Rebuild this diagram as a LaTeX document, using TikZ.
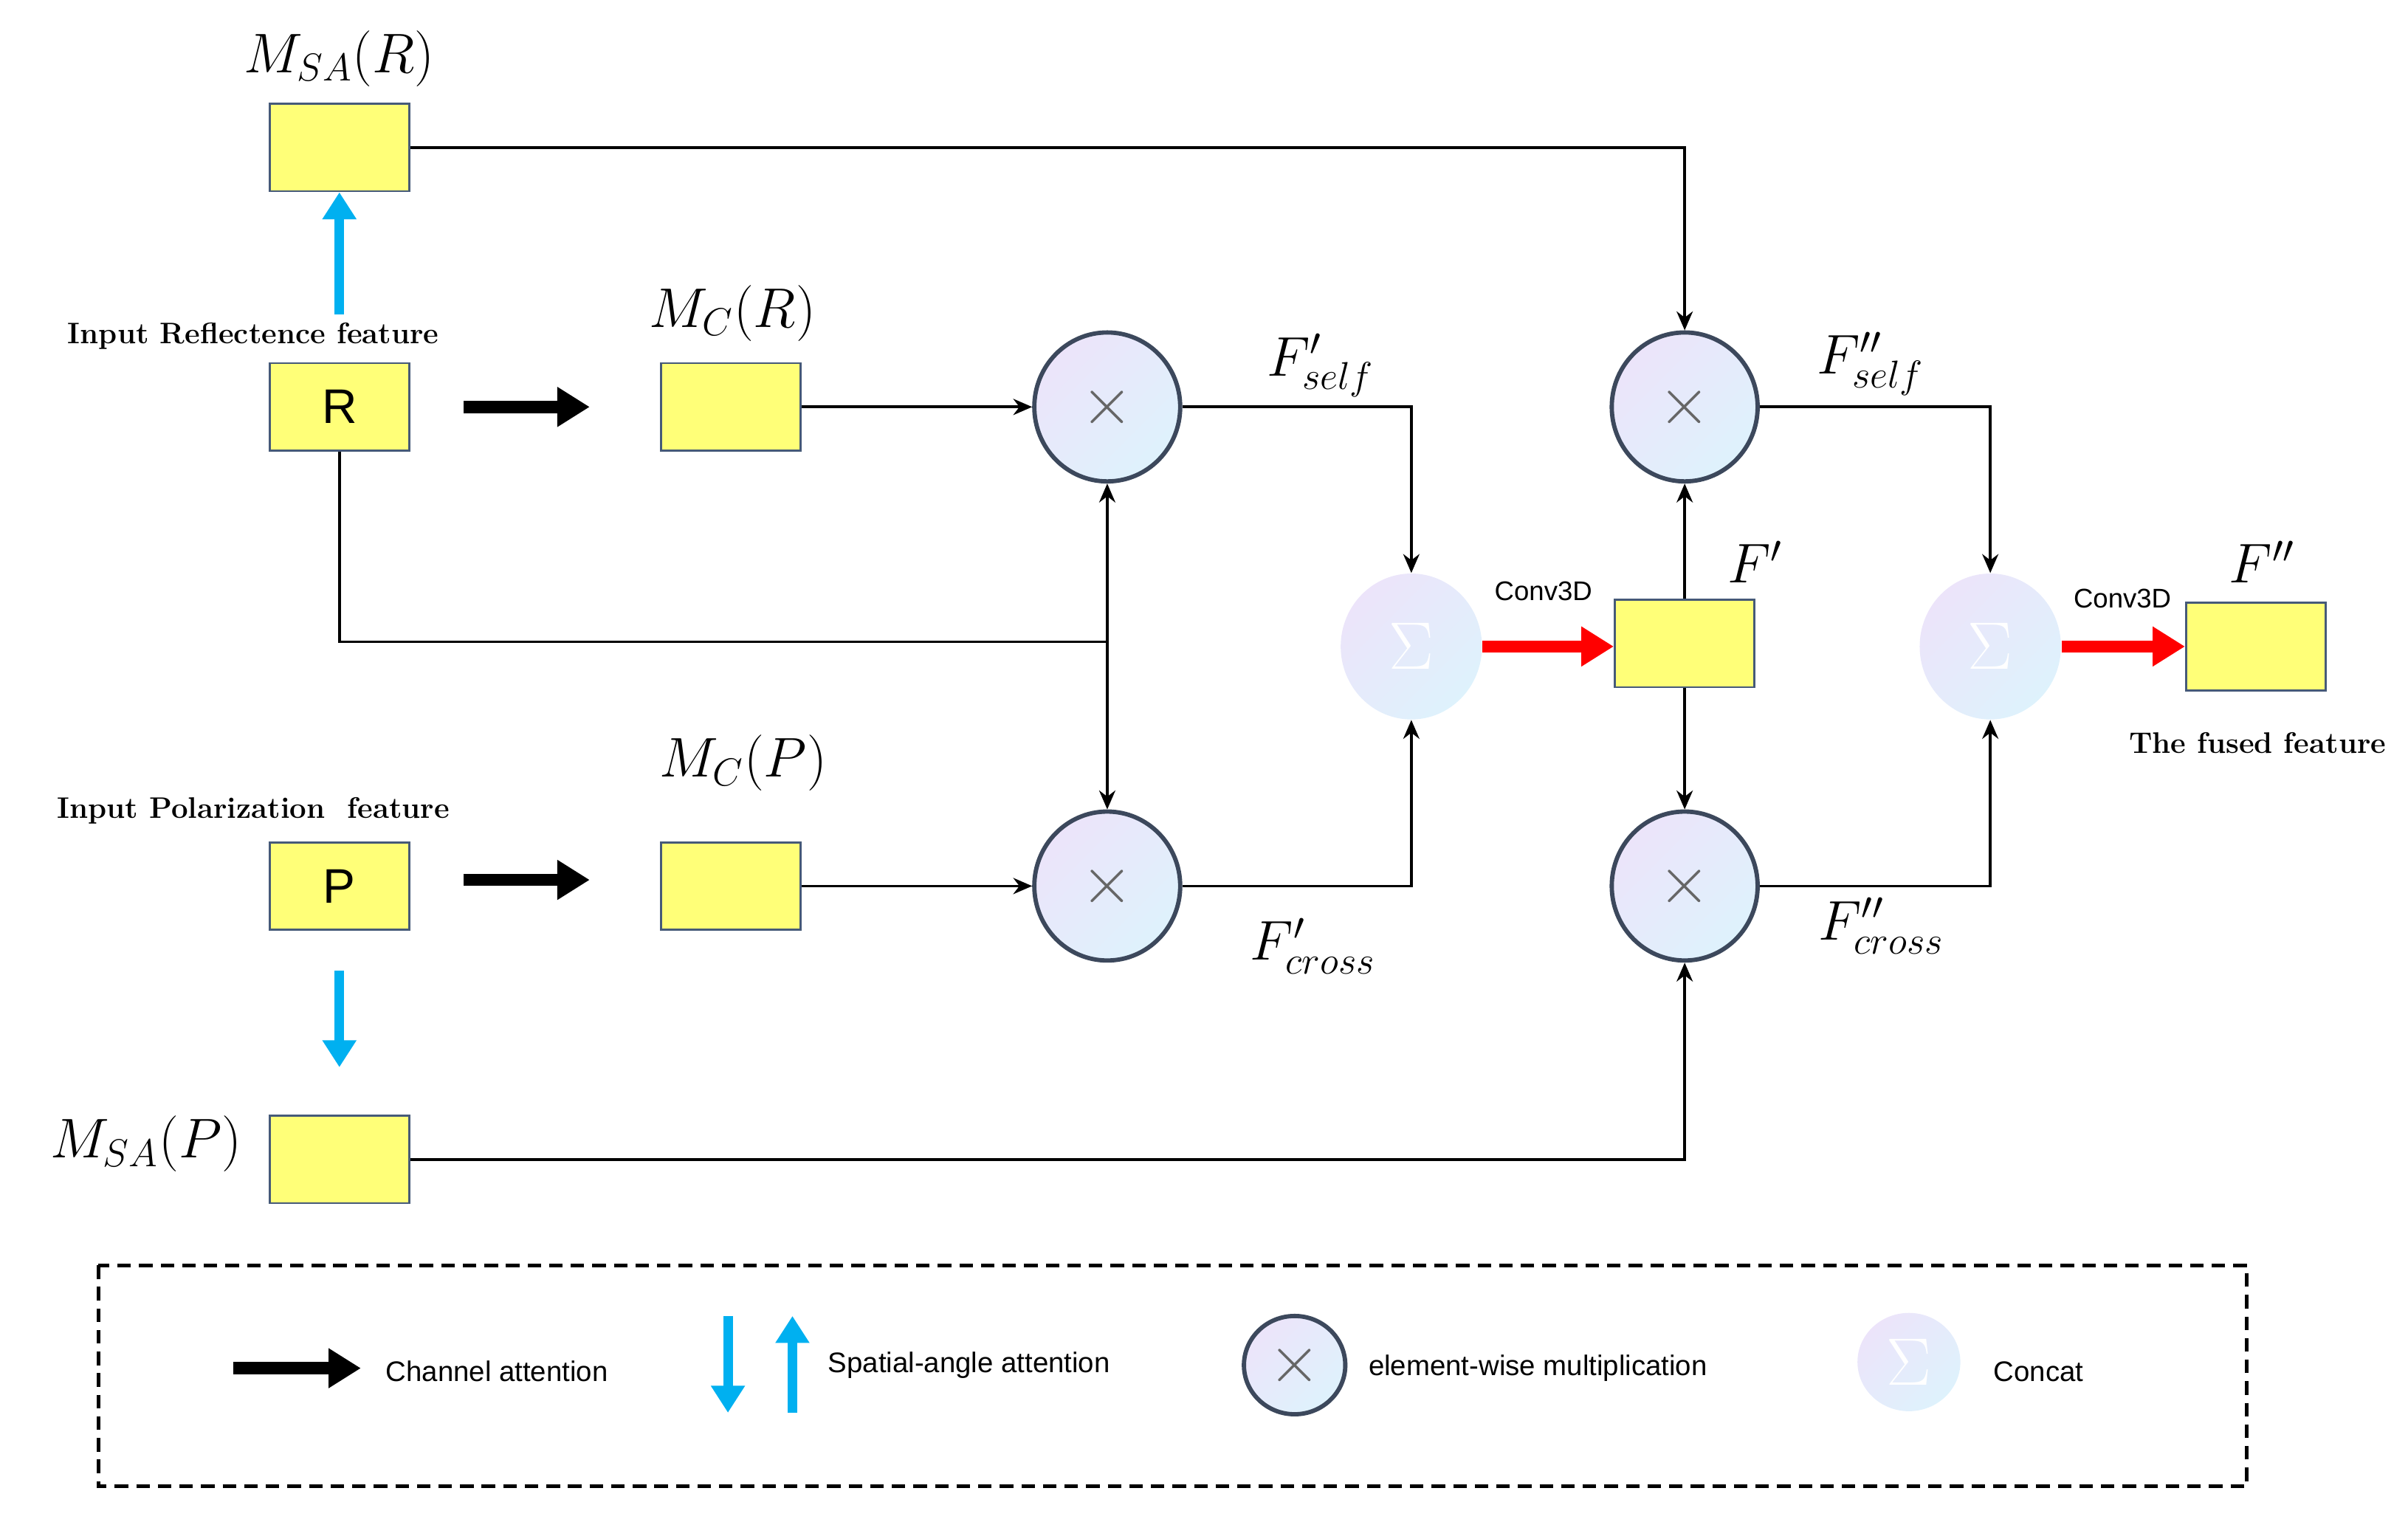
\documentclass[tikz,border=0pt]{standalone}
\usepackage{fontspec}
\newfontfamily\sansf{Liberation Sans}
\usetikzlibrary{positioning,arrows.meta,shapes.geometric}
\definecolor{boxyellow}{RGB}{255,255,120}
\definecolor{boxedge}{RGB}{70,90,120}
\definecolor{ringedge}{RGB}{60,72,92}
\definecolor{attblue}{RGB}{0,176,240}
\definecolor{lavender}{RGB}{236,228,250}
\definecolor{paleblue}{RGB}{222,242,252}
\begin{document}
\begin{tikzpicture}
[
    x=0.2mm,y=-0.2mm,
    feat/.style={rectangle,draw=boxedge,fill=boxyellow,thick,minimum width=18.2mm,minimum height=11.4mm,font=\sansf\fontsize{18}{20}\selectfont},
    mult/.style={ellipse,draw=ringedge,line width=1.6pt,left color=lavender,right color=paleblue,shading angle=45,minimum width=19mm,minimum height=19.4mm},
    concat/.style={ellipse,left color=lavender,right color=paleblue,shading angle=45,minimum width=18.4mm,minimum height=19mm,text=white,font=\fontsize{36}{36}\selectfont},
    mlabel/.style={font=\fontsize{21}{24}\selectfont},
    inlabel/.style={font=\bfseries\fontsize{11}{13}\selectfont},
    legtext/.style={font=\sansf\fontsize{10.5}{12}\selectfont,anchor=west},
    conv/.style={font=\sansf\fontsize{10}{11}\selectfont},
    flow/.style={-{Stealth[length=7pt,width=6pt]},line width=1pt},
    plain/.style={line width=1pt},
    chan/.style={-{Triangle[length=12pt,width=14pt]},line width=4.5pt},
    spat/.style={-{Triangle[length=10pt,width=12pt]},line width=3.5pt,draw=attblue},
    fuse/.style={-{Triangle[length=12pt,width=14pt]},line width=4.5pt,draw=red}
]
\useasboundingbox (0,0) rectangle (1568,991);

% feature boxes
\node (msar) at (221,96) [feat] {};
\node (r) at (221,265) [feat] {R};
\node (mcr) at (476,265) [feat] {};
\node (p) at (221,577) [feat] {P};
\node (mcp) at (476,577) [feat] {};
\node (msap) at (221,755) [feat] {};
\node (f1) at (1097,419) [feat] {};
\node (f2) at (1469,421) [feat] {};

% operators
\node (m1) at (721,265) [mult] {};
\node (m2) at (721,577) [mult] {};
\node (m3) at (1097,265) [mult] {};
\node (m4) at (1097,577) [mult] {};
\node (s1) at (919,421) [concat] {$\Sigma$};
\node (s2) at (1296,421) [concat] {$\Sigma$};
\foreach \m in {m1,m2,m3,m4}
    \node at (\m) [font=\fontsize{58}{58}\selectfont,text=gray!80!black] {$\times$};

% labels
\node at (221,38) [mlabel] {$M_{SA}(R)$};
\node at (165,219) [inlabel] {Input Reflectence feature};
\node at (477,204) [mlabel] {$M_{C}(R)$};
\node at (165,528) [inlabel] {Input Polarization\ \ feature};
\node at (484,497) [mlabel] {$M_{C}(P)$};
\node at (95,745) [mlabel] {$M_{SA}(P)$};
\node at (860,238) [mlabel] {$F'_{self}$};
\node at (855,616) [mlabel] {$F'_{cross}$};
\node at (1143,366) [mlabel] {$F'$};
\node at (1218,237) [mlabel] {$F''_{self}$};
\node at (1225,603) [mlabel] {$F''_{cross}$};
\node at (1473,366) [mlabel] {$F''$};
\node at (1470,484) [inlabel] {The fused feature};
\node at (1005,385) [conv] {Conv3D};
\node at (1382,390) [conv] {Conv3D};

% attention arrows
\draw [spat] (r.north) ++(0,-31) coordinate (ra) -- (msar.south);
\coordinate (pa) at (221,632);
\draw [spat] (pa) -- (221,695) coordinate (pb);
\coordinate (ca) at (302,265);
\draw [chan] (ca) -- (384,265);
\coordinate (cb) at (302,573);
\draw [chan] (cb) -- (384,573);

% connectors
\draw [flow] (mcr.east) -- (m1.west);
\draw [flow] (mcp.east) -- (m2.west);
\coordinate (jn) at (721,418);
\draw [plain] (r.south) |- (jn);
\draw [flow] (jn) -- (m1.south);
\draw [flow] (jn) -- (m2.north);
\draw [flow] (m1.east) -| (s1.north);
\draw [flow] (m2.east) -| (s1.south);
\draw [flow] (msar.east) -| (m3.north);
\draw [flow] (msap.east) -| (m4.south);
\draw [fuse] (s1.east) -- (f1.west |- s1.east);
\draw [flow] (f1.north) -- (m3.south);
\draw [flow] (f1.south) -- (m4.north);
\draw [flow] (m3.east) -| (s2.north);
\draw [flow] (m4.east) -| (s2.south);
\draw [fuse] (s2.east) -- (f2.west |- s2.east);

% legend
\draw [dashed,line width=1.3pt,dash pattern=on 5pt off 3pt] (64,824) rectangle (1463,968);
\coordinate (la) at (152,891);
\draw [chan] (la) -- (235,891);
\node (lt1) at (245,893) [legtext] {Channel attention};
\coordinate (lb) at (474,857);
\draw [spat] (lb) -- (474,920);
\coordinate (lc) at (516,920);
\draw [spat] (lc) -- (516,857);
\node (lt2) at (533,889) [legtext] {Spatial-angle attention};
\node (lm) at (843,889) [mult,minimum width=13.2mm,minimum height=12.8mm] {};
\node at (lm) [font=\fontsize{38}{38}\selectfont,text=gray!80!black] {$\times$};
\node (lt3) at (885,891) [legtext] {element-wise multiplication};
\node (ls) at (1243,887) [concat,minimum width=13.4mm,minimum height=12.8mm,font=\fontsize{24}{24}\selectfont] {$\Sigma$};
\node (lt4) at (1292,893) [legtext] {Concat};
\end{tikzpicture}
\end{document}
